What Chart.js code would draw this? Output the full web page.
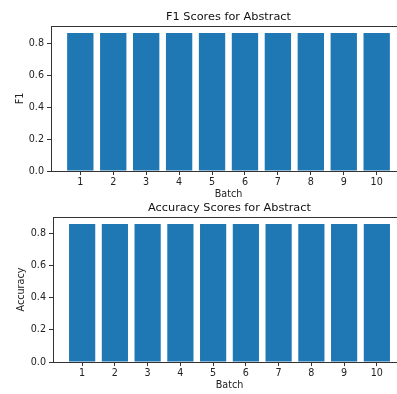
<!DOCTYPE html>
<html>
<head>
<meta charset="utf-8">
<script src="https://cdn.jsdelivr.net/npm/chart.js@4"></script>
<style>
  html, body { margin: 0; padding: 0; background: #fff; overflow: hidden; width: 397px; height: 394px; }
  canvas { position: absolute; left: 0; }
</style>
</head>
<body>
<canvas id="f1Chart" width="406" height="200" style="top:0px"></canvas>
<canvas id="accChart" width="406" height="200" style="top:191px"></canvas>
<script>
const batches = [1, 2, 3, 4, 5, 6, 7, 8, 9, 10];
const f1Scores = [0.863, 0.863, 0.863, 0.863, 0.863, 0.863, 0.863, 0.863, 0.863, 0.863];
const accScores = [0.862, 0.862, 0.862, 0.862, 0.862, 0.862, 0.862, 0.862, 0.862, 0.862];
const yTicks = [0.0, 0.2, 0.4, 0.6, 0.8];

Chart.defaults.font.family = "'DejaVu Sans', sans-serif";
Chart.defaults.color = '#222';

// draws the full axes box like matplotlib spines
const boxPlugin = {
  id: 'box',
  afterDraw(chart) {
    const a = chart.chartArea, ctx = chart.ctx;
    ctx.save();
    ctx.strokeStyle = '#333';
    ctx.lineWidth = 1;
    ctx.strokeRect(Math.round(a.left) + 0.5, Math.round(a.top) + 0.5, Math.round(a.right - a.left), Math.round(a.bottom - a.top));
    ctx.restore();
  }
};

function makeChart(id, title, yLabel, values, yAxisWidth, yTitlePad) {
  const ymax = Math.max(...values) * 1.05;
  return new Chart(document.getElementById(id), {
    type: 'bar',
    data: {
      datasets: [{
        data: batches.map((b, i) => ({ x: b, y: values[i] })),
        backgroundColor: '#1f77b4',
        borderWidth: 0,
        barPercentage: 0.8,
        categoryPercentage: 1
      }]
    },
    plugins: [boxPlugin],
    options: {
      responsive: false,
      devicePixelRatio: 1,
      animation: false,
      layout: { padding: 0 },
      plugins: {
        legend: { display: false },
        tooltip: { enabled: false },
        title: {
          display: true,
          text: title,
          fullSize: false,
          color: '#111',
          font: { size: 11.3, weight: 'normal' },
          padding: { top: 10.5, bottom: 2 }
        }
      },
      scales: {
        x: {
          type: 'linear',
          min: 0.11,
          max: 10.89,
          offset: false,
          afterBuildTicks: s => { s.ticks = batches.map(v => ({ value: v })); },
          afterFit: s => { s.height = 29; },
          grid: { display: true, offset: false, drawOnChartArea: false, drawTicks: true, tickLength: 4, color: '#333' },
          border: { display: false },
          ticks: { padding: 2, font: { size: 9.6 }, maxRotation: 0, autoSkip: false },
          title: { display: true, text: 'Batch', font: { size: 9.6 }, padding: 0 }
        },
        y: {
          min: 0,
          max: ymax,
          afterBuildTicks: s => { s.ticks = yTicks.map(v => ({ value: v })); },
          afterFit: s => { s.width = yAxisWidth; },
          grid: { display: true, drawOnChartArea: false, drawTicks: true, tickLength: 4, color: '#333' },
          border: { display: false },
          ticks: { padding: 3, font: { size: 9.6 }, callback: v => v.toFixed(1) },
          title: { display: true, text: yLabel, font: { size: 9.6 }, padding: { top: yTitlePad, bottom: 0 } }
        }
      }
    }
  });
}

makeChart('f1Chart', 'F1 Scores for Abstract', 'F1', f1Scores, 51, 14.5);
makeChart('accChart', 'Accuracy Scores for Abstract', 'Accuracy', accScores, 53, 16);
</script>
</body>
</html>
